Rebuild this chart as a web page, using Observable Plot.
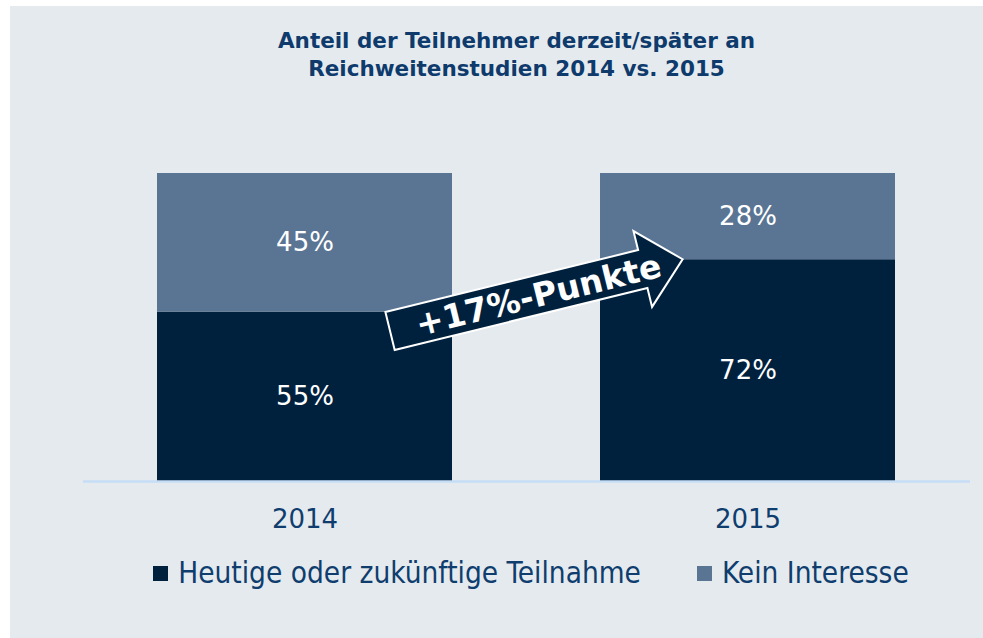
<!DOCTYPE html>
<html><head><meta charset="utf-8">
<script src="https://cdn.jsdelivr.net/npm/d3@7"></script>
<script src="https://cdn.jsdelivr.net/npm/@observablehq/plot@0.6"></script>
<style>
html,body{margin:0;padding:0;background:#fff;width:983px;height:638px;overflow:hidden;}
#panel{position:absolute;left:10px;top:6px;width:973px;height:632px;background:#e5eaef;}
#title{position:absolute;left:50px;width:933px;top:27px;text-align:center;font-family:"DejaVu Sans";font-weight:bold;font-size:21.5px;line-height:28px;color:#0e3b6c;}
#chart{position:absolute;left:0;top:85px;}
#legend{position:absolute;left:0;top:557px;width:904px;padding-left:79px;display:flex;justify-content:center;align-items:center;font-family:"DejaVu Sans Condensed","DejaVu Sans";font-stretch:condensed;font-size:29.5px;line-height:32px;color:#0f3e6e;}
.item{display:flex;align-items:center;}
.item + .item{margin-left:56px;}
.sw{width:15px;height:15px;margin-right:10px;}
</style>
</head><body>
<div id="panel"></div>
<div id="title">Anteil der Teilnehmer derzeit/später an<br>Reichweitenstudien 2014 vs. 2015</div>
<div id="chart"></div>
<div id="legend"></div>
<script>
const years = ["2014", "2015"];
const seriesNames = ["Heutige oder zukünftige Teilnahme", "Kein Interesse"];
const participation = [55, 72];
const noInterest = [45, 28];
const seriesColors = ["#00213e", "#5a7594"];
const arrowLabel = "+17%-Punkte";
const arrowFrom = {year: "2014", value: 48.7};
const arrowTo = {year: "2015", value: 72};

const table = years.flatMap((yr, i) => [
  {year: yr, series: seriesNames[0], value: participation[i]},
  {year: yr, series: seriesNames[1], value: noInterest[i]}
]);

function arrowMark(index, scales) {
  const x = scales.x, y = scales.y;
  const bw = typeof x.bandwidth === "function" ? x.bandwidth() : x.bandwidth;
  const x0 = x(arrowFrom.year) + 0.79 * bw, y0 = y(arrowFrom.value);
  const x1 = x(arrowTo.year) + 0.28 * bw, y1 = y(arrowTo.value);
  const L = Math.hypot(x1 - x0, y1 - y0);
  const ang = Math.atan2(y1 - y0, x1 - x0) * 180 / Math.PI;
  const hw = 19.5, hh = 39, hl = 41;
  const g = d3.create("svg:g").attr("transform", `translate(${x0},${y0}) rotate(${ang})`);
  g.append("path")
    .attr("d", `M0,${-hw}H${L - hl}V${-hh}L${L},0L${L - hl},${hh}V${hw}H0Z`)
    .attr("fill", "#00213e").attr("stroke", "white").attr("stroke-width", 2).attr("stroke-linejoin", "miter");
  g.append("text")
    .attr("x", L / 2 + 2).attr("y", 0).attr("dy", "0.36em")
    .attr("text-anchor", "middle").attr("fill", "white")
    .attr("font-weight", "bold").attr("font-size", 33)
    .text(arrowLabel);
  return g.node();
}

const chart = Plot.plot({
  width: 983,
  height: 460,
  marginTop: 88,
  marginBottom: 64,
  marginLeft: 83,
  marginRight: 13,
  style: {background: "transparent", overflow: "visible", fontFamily: "DejaVu Sans"},
  x: {domain: years, paddingInner: 0.333, paddingOuter: 0.1665, label: null},
  y: {domain: [0, 100], axis: null},
  color: {domain: seriesNames, range: seriesColors},
  marks: [
    Plot.barY(table, {x: "year", y: "value", fill: "series"}),
    Plot.ruleY([0], {stroke: "#c6ddf6", strokeWidth: 2.5}),
    Plot.text(table, Plot.stackY({x: "year", y: "value", z: "series", text: d => d.value + "%", fill: "white", fontSize: 26})),
    Plot.axisX({tickSize: 0, tickPadding: 28, fontSize: 26, color: "#0f3e6e", label: null}),
    arrowMark
  ]
});
document.getElementById("chart").appendChild(chart);

const legend = document.getElementById("legend");
seriesNames.forEach((name, i) => {
  const item = document.createElement("div");
  item.className = "item";
  const sw = document.createElement("span");
  sw.className = "sw";
  sw.style.background = seriesColors[i];
  const label = document.createElement("span");
  label.textContent = name;
  item.appendChild(sw);
  item.appendChild(label);
  legend.appendChild(item);
});
</script>
</body></html>
